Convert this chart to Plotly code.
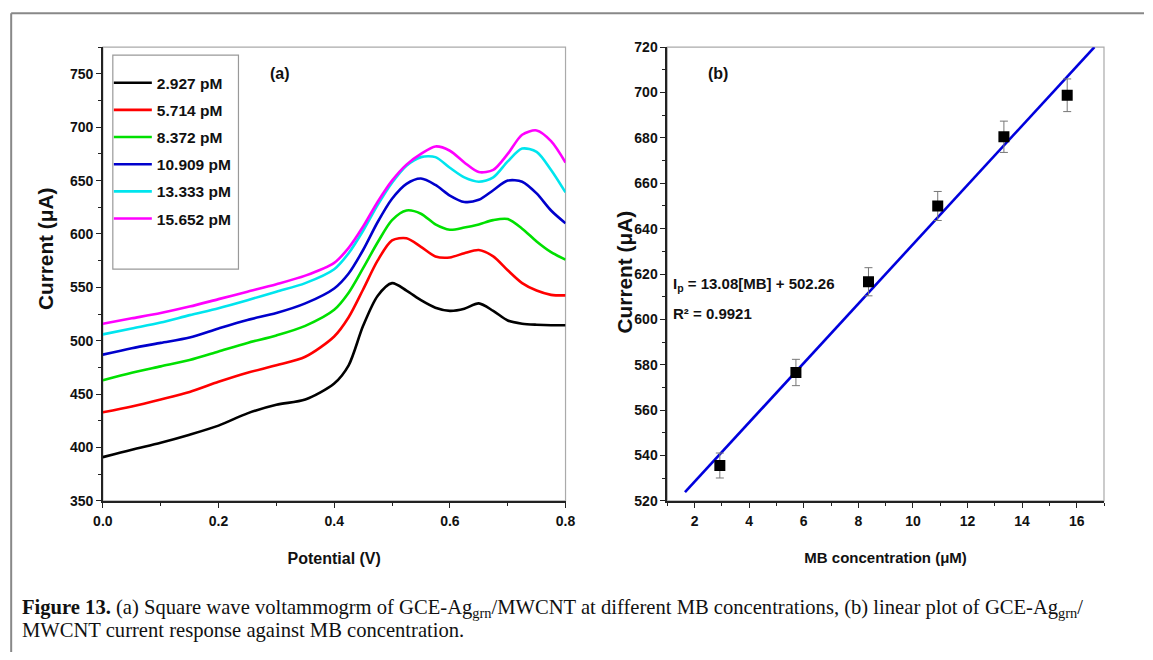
import plotly.graph_objects as go

# Figure size + compensation for the page's 8px body margin and the photo's slight rescale
OFF = 8
W, H = 1154, 660
SX, SY = 1153 / 1170, 660 / 676

# ---------------- data: panel (a) ----------------
potential = [0, 0.05, 0.1, 0.15, 0.2, 0.25, 0.3, 0.35, 0.4, 0.425, 0.45, 0.475, 0.5,
             0.525, 0.55, 0.575, 0.6, 0.625, 0.65, 0.675, 0.7, 0.725, 0.75, 0.775, 0.8]
labels_a = ["2.927 pM", "5.714 pM", "8.372 pM", "10.909 pM", "13.333 pM", "15.652 pM"]
cur_2927 = [391, 398, 404.5, 412, 420.5, 432, 440, 445, 460, 477, 514, 542, 554,
            547, 538, 531, 528, 530, 535, 528, 519, 516, 515, 514.5, 514.5]
cur_5714 = [433, 438.5, 445, 452, 461.5, 470, 477, 485, 504, 522, 548, 575, 594,
            596, 588, 579, 578, 582, 585, 579, 566, 554, 547, 543, 542.5]
cur_8372 = [463, 470, 476, 482, 490, 498, 505, 514, 529, 545, 568, 592, 613,
            622, 619, 609, 604, 606, 609, 613, 614, 605, 593, 583, 576]
cur_10909 = [487, 493, 498, 503, 511.5, 519.5, 526, 535, 549, 563, 585, 611, 633,
             647, 652, 646, 636, 630, 632, 641, 650, 649, 638, 622, 610]
cur_13333 = [506, 511.5, 517, 524, 530.5, 538, 546, 554, 567, 582, 603, 627, 648,
             664, 672, 672, 662, 653, 649, 653, 668, 680, 677, 660, 639]
cur_15652 = [516, 521, 526, 532, 539, 546, 553, 561, 573, 587, 607, 630, 650,
             665, 675, 682, 678, 667, 658, 660, 675, 693, 697, 687, 667]
curves_a = [cur_2927, cur_5714, cur_8372, cur_10909, cur_13333, cur_15652]
colors_a = ["#000000", "#ff0000", "#00e000", "#0000cc", "#00e5ee", "#ff00ff"]

# ---------------- data: panel (b) ----------------
mb_conc = [2.927, 5.714, 8.372, 10.909, 13.333, 15.652]
peak_current = [535.6, 576.6, 616.6, 650.0, 680.5, 698.8]
peak_err = [5.5, 5.8, 6.2, 6.4, 6.9, 7.2]
fit_slope = 13.08
fit_intercept = 502.26
fit_x = [1.65, 16.65]
fit_y = [fit_slope * v + fit_intercept for v in fit_x]


def px(x):
    return (x / SX - OFF) / W


def py(y):
    return 1 - (y / SY - OFF) / H


SANS = "Liberation Sans, Arial, sans-serif"
SERIF = "Liberation Serif, Times New Roman, serif"
INK = "#111111"

fig = go.Figure()

for name, ys, col in zip(labels_a, curves_a, colors_a):
    fig.add_trace(go.Scatter(
        x=potential, y=ys, mode="lines", name=name, legendgroup=name,
        line=dict(color=col, width=2.6, shape="spline", smoothing=0.8),
        xaxis="x", yaxis="y", showlegend=True))

fig.add_trace(go.Scatter(
    x=fit_x, y=fit_y, mode="lines", line=dict(color="#0000dd", width=2.6),
    xaxis="x2", yaxis="y2", showlegend=False))
fig.add_trace(go.Scatter(
    x=mb_conc, y=peak_current, mode="markers",
    marker=dict(symbol="square", size=11, color="black"),
    error_y=dict(type="data", array=peak_err, visible=True, color="#777777",
                 thickness=1, width=4),
    xaxis="x2", yaxis="y2", showlegend=False))

tickfont = dict(family=SANS, size=14, color=INK, weight="bold")
ytitlefont = dict(family=SANS, size=20.8, color=INK)

common_axis = dict(showgrid=False, zeroline=False, showline=True, linecolor="#222222",
                   linewidth=1.5, ticks="outside", ticklen=5, tickwidth=1.2,
                   tickcolor="#222222", tickfont=tickfont)
minor_style = dict(ticks="outside", ticklen=3, tickcolor="#222222", tickwidth=1)

fig.update_layout(
    width=W, height=H,
    margin=dict(l=0, r=0, t=0, b=0),
    paper_bgcolor="white", plot_bgcolor="white",
    xaxis=dict(domain=[px(101), px(565)], range=[0, 0.8], dtick=0.2, tick0=0,
               tickformat=".1f", anchor="y", minor=dict(dtick=0.1, **minor_style),
               ticklabelstandoff=2,
               title=dict(text="<b>Potential (V)</b>",
                          font=dict(family=SANS, size=16, color=INK), standoff=24),
               **common_axis),
    yaxis=dict(domain=[py(501), py(47)], range=[350, 775], dtick=50, tick0=350,
               anchor="x", minor=dict(dtick=25, **minor_style), **common_axis),
    xaxis2=dict(domain=[px(667), px(1105)], range=[1, 17], dtick=2, tick0=0,
                anchor="y2", minor=dict(dtick=1, **minor_style),
                ticklabelstandoff=2,
                title=dict(text="<b>MB concentration (\u03bcM)</b>",
                           font=dict(family=SANS, size=15, color=INK), standoff=24),
                **common_axis),
    yaxis2=dict(domain=[py(501), py(47)], range=[520, 720], dtick=20, tick0=520,
                anchor="x2", minor=dict(dtick=10, **minor_style), **common_axis),
    legend=dict(x=px(107), y=py(66), xanchor="left", yanchor="top",
                bgcolor="rgba(0,0,0,0)", borderwidth=0,
                font=dict(family=SANS, size=15.5, color=INK, weight="bold"),
                itemwidth=38, tracegroupgap=4),
)

# frames (light gray top/right borders of plot areas)
for xr, yr in (("x domain", "y domain"), ("x2 domain", "y2 domain")):
    fig.add_shape(type="rect", xref=xr, yref=yr, x0=0, x1=1, y0=0, y1=1,
                  line=dict(color="#aaaaaa", width=1.2), layer="below")

# legend box
fig.add_shape(type="rect", xref="paper", yref="paper", x0=px(111), x1=px(237),
              y0=py(269), y1=py(55), line=dict(color="#999999", width=1.2))

# outer figure frame (top + left)
fig.add_shape(type="line", xref="paper", yref="paper", x0=1.2 / W, x1=1, y0=py(13), y1=py(13),
              line=dict(color="#888888", width=2))
fig.add_shape(type="line", xref="paper", yref="paper", x0=1.2 / W, x1=1.2 / W, y0=0, y1=py(13),
              line=dict(color="#888888", width=2))


def note(x, y, text, font, xanchor="center", **kw):
    return dict(x=px(x), y=py(y), text=text, font=font, showarrow=False,
                xref="paper", yref="paper", xanchor=xanchor, yanchor="middle", **kw)


lab = dict(family=SANS, size=16, color=INK)
eq = dict(family=SANS, size=15, color=INK)
cap = dict(family=SERIF, size=20.6, color=INK)

ann = [
    note(43, 249, "<b>Current (\u03bcA)</b>", ytitlefont, textangle=-90),
    note(624, 272, "<b>Current (\u03bcA)</b>", ytitlefont, textangle=-90),
    note(279, 73, "<b>(a)</b>", lab),
    note(718, 73, "<b>(b)</b>", lab),
    note(671, 284, "<b>I<sub>p</sub> = %.2f[MB] + %.2f</b>" % (fit_slope, fit_intercept), eq,
         xanchor="left"),
    note(671, 313, "<b>R\u00b2 = 0.9921</b>", eq, xanchor="left"),
    note(18, 609, "<b>Figure 13.</b> (a) Square wave voltammogrm of GCE-Ag<sub>grn</sub>/MWCNT at different MB "
                  "concentrations, (b) linear plot of GCE-Ag<sub>grn</sub>/", cap, xanchor="left", align="left"),
    note(18, 631, "MWCNT current response against MB concentration.", cap, xanchor="left", align="left"),
]
fig.update_layout(annotations=ann)

fig.write_html("out.html")
